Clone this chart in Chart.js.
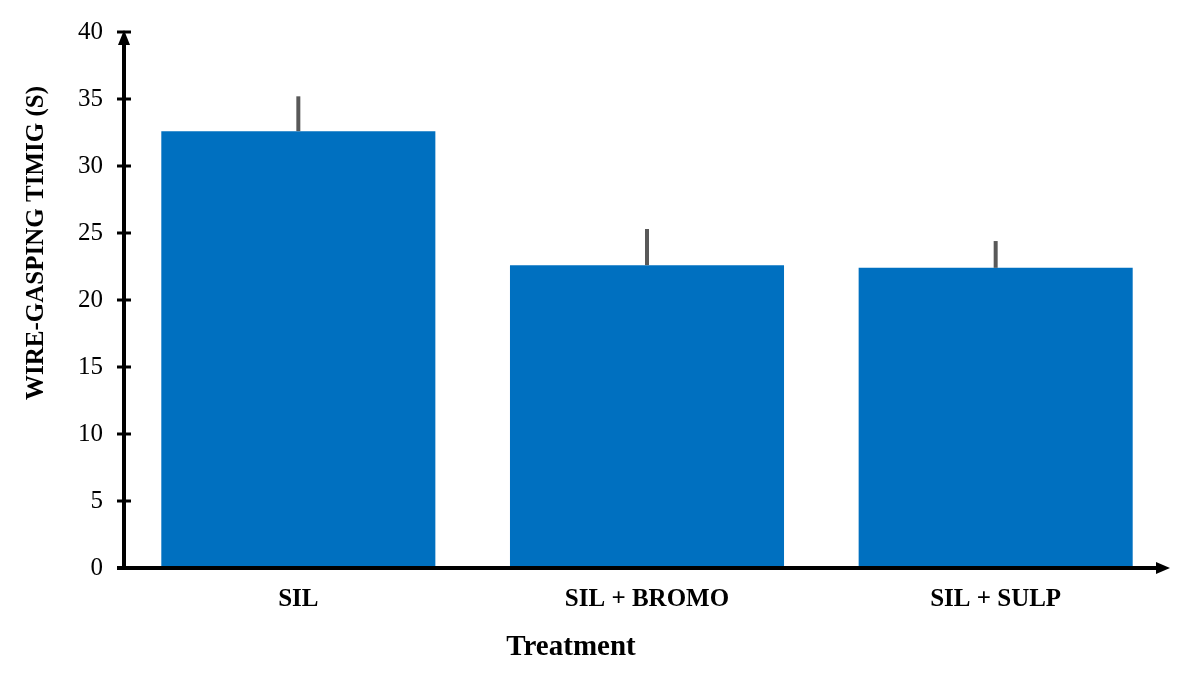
<!DOCTYPE html>
<html>
<head>
<meta charset="utf-8">
<script src="https://cdn.jsdelivr.net/npm/chart.js@4/dist/chart.umd.min.js"></script>
<style>
html,body{margin:0;padding:0;background:#fff;}
#wrap{width:1199px;height:674px;position:relative;}
</style>
</head>
<body>
<div id="wrap"><canvas id="c" width="1199" height="674"></canvas></div>
<script>
const categories = ['SIL', 'SIL + BROMO', 'SIL + SULP'];
const means = [32.6, 22.6, 22.4];
const errors = [2.6, 2.7, 2.0];
const yTicks = [0, 5, 10, 15, 20, 25, 30, 35, 40];
const yTitle = 'WIRE-GASPING TIMIG (S)';
const xTitle = 'Treatment';

const serif = "'Liberation Serif', 'Times New Roman', serif";

const decor = {
  id: 'decor',
  afterDatasetsDraw(chart) {
    const ctx = chart.ctx;
    const xs = chart.scales.x, ys = chart.scales.y;
    const meta = chart.getDatasetMeta(0);
    ctx.save();
    // error bars (upper only)
    ctx.strokeStyle = '#595959';
    ctx.lineWidth = 4;
    meta.data.forEach((bar, i) => {
      const yTop = ys.getPixelForValue(means[i] + errors[i]);
      const yBase = ys.getPixelForValue(means[i]);
      ctx.beginPath();
      ctx.moveTo(bar.x, yBase);
      ctx.lineTo(bar.x, yTop);
      ctx.stroke();
    });
    // axes
    const ax = chart.chartArea.left;
    const ay = ys.getPixelForValue(0);
    ctx.strokeStyle = '#000';
    ctx.fillStyle = '#000';
    ctx.lineWidth = 4;
    ctx.beginPath();
    ctx.moveTo(ax, ay + 2);
    ctx.lineTo(ax, chart.chartArea.top + 12);
    ctx.stroke();
    ctx.beginPath();
    ctx.moveTo(ax - 7, ay);
    ctx.lineTo(chart.chartArea.right - 12, ay);
    ctx.stroke();
    // y ticks crossing
    ctx.lineWidth = 3;
    yTicks.forEach(v => {
      const py = ys.getPixelForValue(v);
      ctx.beginPath();
      ctx.moveTo(ax - 7, py);
      ctx.lineTo(ax + 7, py);
      ctx.stroke();
    });
    // arrowheads
    const top = chart.chartArea.top;
    ctx.beginPath();
    ctx.moveTo(ax, top - 2);
    ctx.lineTo(ax - 6, top + 13);
    ctx.lineTo(ax + 6, top + 13);
    ctx.closePath();
    ctx.fill();
    const right = chart.chartArea.right;
    ctx.beginPath();
    ctx.moveTo(right, ay);
    ctx.lineTo(right - 14, ay - 6);
    ctx.lineTo(right - 14, ay + 6);
    ctx.closePath();
    ctx.fill();
    // x title
    ctx.font = 'bold 29px ' + serif;
    ctx.textAlign = 'center';
    ctx.textBaseline = 'alphabetic';
    ctx.fillText(xTitle, 571, 655);
    // y title
    ctx.save();
    ctx.translate(43, 243);
    ctx.rotate(-Math.PI / 2);
    ctx.font = 'bold 25px ' + serif;
    ctx.textAlign = 'center';
    ctx.textBaseline = 'alphabetic';
    ctx.fillText(yTitle, 0, 0);
    ctx.restore();
    ctx.restore();
  }
};

new Chart(document.getElementById('c'), {
  type: 'bar',
  data: {
    labels: categories,
    datasets: [{
      data: means,
      backgroundColor: '#0070C0',
      borderWidth: 0,
      barPercentage: 0.786,
      categoryPercentage: 1.0
    }]
  },
  options: {
    responsive: false,
    animation: false,
    devicePixelRatio: 1,
    layout: { padding: { left: 0, right: 29, top: 32, bottom: 0 } },
    plugins: { legend: { display: false }, tooltip: { enabled: false } },
    scales: {
      x: {
        grid: { display: false, drawTicks: false },
        border: { display: false },
        ticks: { color: '#000', font: { family: serif, size: 25, weight: 'bold' }, padding: 17, maxRotation: 0 },
        afterFit(s) { s.height = 106; s.paddingLeft = 0; s.paddingRight = 0; }
      },
      y: {
        min: 0, max: 40,
        afterBuildTicks(s) { s.ticks = yTicks.map(v => ({ value: v })); },
        grid: { display: false, drawTicks: false },
        border: { display: false },
        ticks: { color: '#000', font: { family: serif, size: 25 }, padding: 21 },
        afterFit(s) { s.width = 124; s.paddingTop = 0; s.paddingBottom = 0; }
      }
    }
  },
  plugins: [decor]
});
</script>
</body>
</html>
